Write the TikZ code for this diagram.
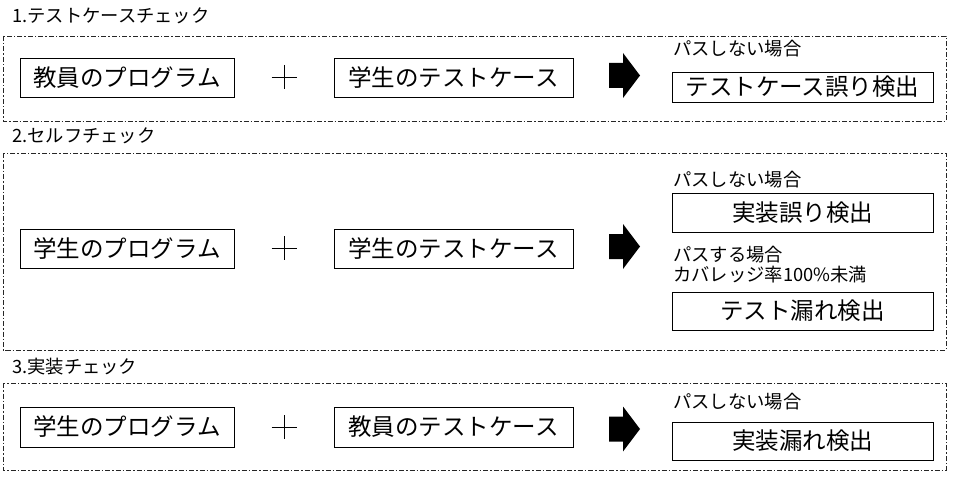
\documentclass[tikz,border=0pt]{standalone}
\usepackage{fontspec}
\setmainfont{Noto Sans CJK JP}
\usetikzlibrary{calc}
\begin{document}
\begin{tikzpicture}[x=1pt,y=-1pt,
  big/.style={font=\fontsize{23.5}{27}\selectfont},
  small/.style={font=\fontsize{18.3}{21}\selectfont, inner sep=0pt, anchor=west},
  itembox/.style={draw, line width=0.9pt, inner sep=0pt, big},
  frame/.style={draw=black!85, line width=0.8pt, dash pattern=on 5pt off 2pt on 1.5pt off 2pt},
  bigarrow/.style={fill=black},
  plusline/.style={line width=0.9pt}
]
\useasboundingbox (0,0) rectangle (955,484);
\fill[white] (0,0) rectangle (955,484);

% frames
\draw[frame] (3,36) rectangle (946,121);
\draw[frame] (3,153) rectangle (946,350);
\draw[frame] (3,383) rectangle (946,470);

% section titles
\node[small] (t1) at (12,16) {1.テストケースチェック};
\node[small] (t2) at (12,136) {2.セルフチェック};
\node[small] (t3) at (12,367) {3.実装チェック};

% section 1
\node[itembox, minimum width=214, minimum height=39] (a1) at (127,77.5) {教員のプログラム};
\node[itembox, minimum width=239, minimum height=39] (b1) at (453.5,77.5) {学生のテストケース};
\node[small] (l1) at (673,49) {パスしない場合};
\node[itembox, minimum width=261, minimum height=30] (r1) at (802.5,87) {テストケース誤り検出};
\coordinate (p1) at (284,77);
\coordinate (w1) at (624.5,75.5);

% section 2
\node[itembox, minimum width=214, minimum height=39] (a2) at (127,248.5) {学生のプログラム};
\node[itembox, minimum width=239, minimum height=39] (b2) at (453.5,248.5) {学生のテストケース};
\node[small] (l2) at (673,180) {パスしない場合};
\node[itembox, minimum width=261, minimum height=39] (r2) at (802.5,212.5) {実装誤り検出};
\node[small] (l2b) at (673,255) {パスする場合};
\node[small] (l2c) at (673,275) {カバレッジ率100\%未満};
\node[itembox, minimum width=261, minimum height=38] (r2b) at (802.5,311) {テスト漏れ検出};
\coordinate (p2) at (284,248);
\coordinate (w2) at (624.5,246.5);

% section 3
\node[itembox, minimum width=214, minimum height=40] (a3) at (127,427) {学生のプログラム};
\node[itembox, minimum width=239, minimum height=40] (b3) at (453.5,427) {教員のテストケース};
\node[small] (l3) at (673,402) {パスしない場合};
\node[itembox, minimum width=261, minimum height=38] (r3) at (802.5,441) {実装漏れ検出};
\coordinate (p3) at (284,427);
\coordinate (w3) at (624.5,429);

% plus signs
\foreach \p in {p1,p2,p3}{
  \draw[plusline] ($(\p)+(-12.5,0)$) -- ($(\p)+(12.5,0)$);
  \draw[plusline] ($(\p)+(0,-12)$) -- ($(\p)+(0,12)$);
}
% block arrows
\foreach \w in {w1,w2,w3}{
  \fill[bigarrow] ($(\w)+(-15.5,-12.5)$) -- ($(\w)+(-1.5,-12.5)$) -- ($(\w)+(-1.5,-22.5)$)
    -- ($(\w)+(15.5,0)$) -- ($(\w)+(-1.5,22.5)$) -- ($(\w)+(-1.5,12.5)$) -- ($(\w)+(-15.5,12.5)$) -- cycle;
}
\end{tikzpicture}
\end{document}
